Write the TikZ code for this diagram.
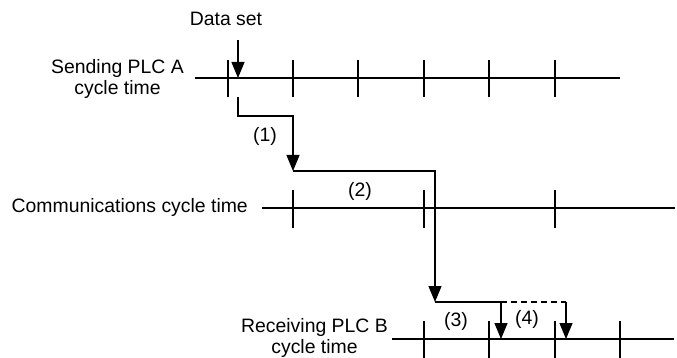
\documentclass[tikz,border=0pt]{standalone}
\usepackage{fontspec}
\setmainfont{Liberation Sans}
\usetikzlibrary{arrows.meta}
\usetikzlibrary{positioning}

\begin{document}
\begin{tikzpicture}[x=1pt,y=-1pt,
  every node/.style={font=\fontsize{19.4}{21}\selectfont,inner sep=0pt},
  tline/.style={line width=1.2pt},
  flow/.style={line width=1.2pt,-{Triangle[length=16pt,width=13pt]}},
  wire/.style={line width=1.2pt}]
\useasboundingbox (0,0) rectangle (677,358);
% time lines
\coordinate (sendL) at (195,78);
\coordinate (sendR) at (620,78);
\coordinate (commL) at (262,208);
\coordinate (commR) at (675,208);
\coordinate (recvL) at (392,339);
\coordinate (recvR) at (674,339);
\draw[tline] (sendL) -- (sendR);
\draw[tline] (commL) -- (commR);
\draw[tline] (recvL) -- (recvR);
\foreach \x in {228,293,358,424,489,555}
  \draw[tline] (\x,60) -- (\x,97);
\foreach \x in {293,424,555}
  \draw[tline] (\x,190) -- (\x,228);
\foreach \x in {424,489,555,620}
  \draw[tline] (\x,321) -- (\x,358);
% labels
\node[anchor=east,align=center] (sendlbl) at (184,79) {Sending PLC A\\cycle time};
\node[anchor=east] (commlbl) at (248,207) {Communications cycle time};
\node[anchor=east,align=center] (recvlbl) at (388,338) {Receiving PLC B\\cycle time};
\node (dataset) at (226,19) {Data set};
\node (stepA) at (265,136) {(1)};
\node (stepB) at (360,191) {(2)};
\node (stepC) at (456,321) {(3)};
\node (stepD) at (527,319) {(4)};
% data flow
\coordinate (setTop) at (238,40);
\coordinate (setHit) at (238,78);
\coordinate (outA) at (238,97);
\coordinate (turnA) at (238,116);
\coordinate (turnB) at (293,116);
\coordinate (inComm) at (293,171);
\coordinate (turnC) at (435,171);
\coordinate (inRecv) at (435,302);
\coordinate (turnD) at (501,302);
\coordinate (hitC) at (501,339);
\coordinate (turnE) at (566,302);
\coordinate (hitD) at (566,339);
\draw[flow] (setTop) -- (setHit);
\draw[flow] (outA) -- (turnA) -- (turnB) -- (inComm);
\draw[flow] (inComm) -- (turnC) -- (inRecv);
\draw[flow] (inRecv) -- (turnD) -- (hitC);
\draw[wire,dashed,dash pattern=on 6pt off 4pt] (turnD) -- (turnE);
\draw[flow] (turnE) -- (hitD);
\end{tikzpicture}
\end{document}
